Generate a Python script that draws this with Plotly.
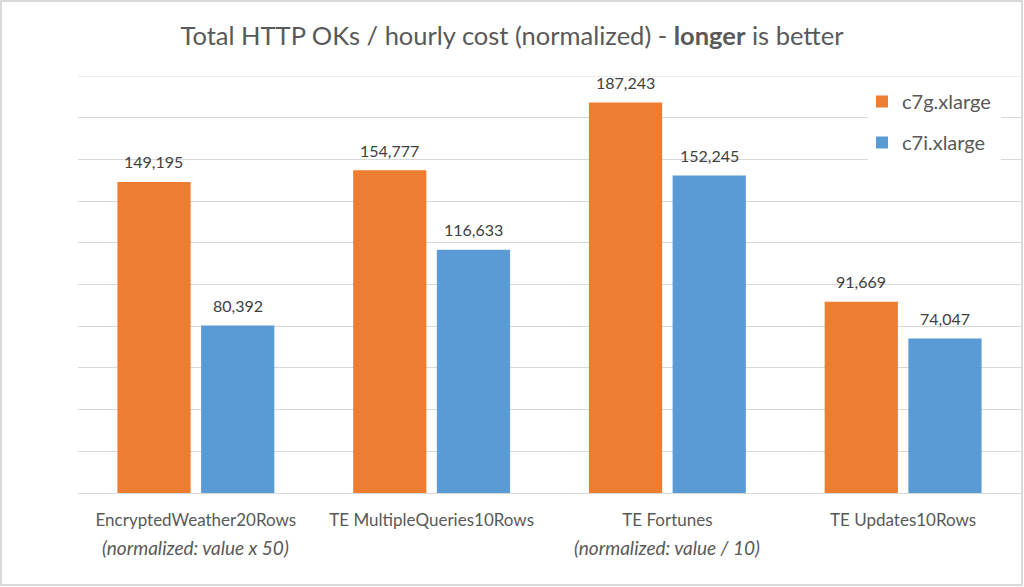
import plotly.graph_objects as go

categories = ["EncryptedWeather20Rows", "TE MultipleQueries10Rows", "TE Fortunes", "TE Updates10Rows"]
notes = ["(normalized: value x 50)", "", "(normalized: value / 10)", ""]
series_names = ["c7g.xlarge", "c7i.xlarge"]
c7g_values = [149195, 154777, 187243, 91669]
c7i_values = [80392, 116633, 152245, 74047]
colors = ["#ED7D31", "#5B9BD5"]
y_max = 200000

FONT = "Lato"
W, H = 1024, 587
L, R, T, B = 78, 3, 76, 94
pw, ph = W - L - R, H - T - B

fig = go.Figure()
for name, vals, col in zip(series_names, [c7g_values, c7i_values], colors):
    fig.add_trace(go.Bar(
        x=categories, y=vals, name=name, marker=dict(color=col, line=dict(width=0)),
        legendgroup=name,
    ))

# data labels
for vals, shift in zip([c7g_values, c7i_values], [-42, 42]):
    for cat, v in zip(categories, vals):
        fig.add_annotation(x=cat, y=v, xref="x", yref="y", text=f"{v:,}", showarrow=False,
                           xshift=shift, yshift=20, yanchor="middle",
                           font=dict(family=FONT, size=16, color="#404040"))

for cat, note in zip(categories, notes):
    if note:
        fig.add_annotation(x=cat, xref="x", y=-(547 - (T + ph)) / ph, yref="paper", yanchor="middle",
                           text=f"<i>{note}</i>", showarrow=False,
                           font=dict(family=FONT, size=19, color="#595959"))

# top gridline (at the range edge)
fig.add_shape(type="line", xref="paper", yref="y", x0=0, x1=1, y0=y_max, y1=y_max,
              line=dict(color="#D9D9D9", width=1), layer="below")

# legend background box
fig.add_shape(type="rect", xref="paper", yref="paper",
              x0=(868 - L) / pw, x1=(1001 - L) / pw, y0=1 - (164 - T) / ph, y1=1 - (80 - T) / ph,
              line=dict(width=0), fillcolor="white", layer="above")

fig.add_shape(type="rect", xref="paper", yref="paper",
              x0=(1 - L) / pw, x1=(1022 - L) / pw, y0=-(585 - T - ph) / ph, y1=1 + (T - 1) / ph,
              line=dict(color="#D9D9D9", width=2), fillcolor="rgba(0,0,0,0)", layer="below")

fig.update_layout(
    width=W, height=H,
    margin=dict(l=L, r=R, t=T, b=B),
    paper_bgcolor="white", plot_bgcolor="white",
    barmode="group", bargap=0.29, bargroupgap=0.125,
    title=dict(text="Total HTTP OKs / hourly cost (normalized) - <b>longer</b> is better",
               x=0.5, xref="container", xanchor="center", y=1 - 36 / H, yref="container",
               yanchor="middle",
               font=dict(family=FONT, size=25.5, color="#595959")),
    xaxis=dict(showgrid=False, showline=True, linecolor="#D9D9D9", linewidth=1,
               ticks="", ticklabelstandoff=12,
               tickfont=dict(family=FONT, size=17, color="#595959")),
    yaxis=dict(range=[0, y_max], dtick=20000, showgrid=True, gridcolor="#D9D9D9",
               gridwidth=1, showticklabels=False, zeroline=False, ticks=""),
    legend=dict(x=(862 - L) / pw, xanchor="left", y=1 - (82 - T) / ph, yanchor="top",
                bgcolor="rgba(0,0,0,0)",
                traceorder="grouped", tracegroupgap=12,
                font=dict(family=FONT, size=20, color="#595959")),
    showlegend=True,
)

fig.write_html("out.html", config={"displayModeBar": False},
               post_script="document.body.style.margin='0';")
